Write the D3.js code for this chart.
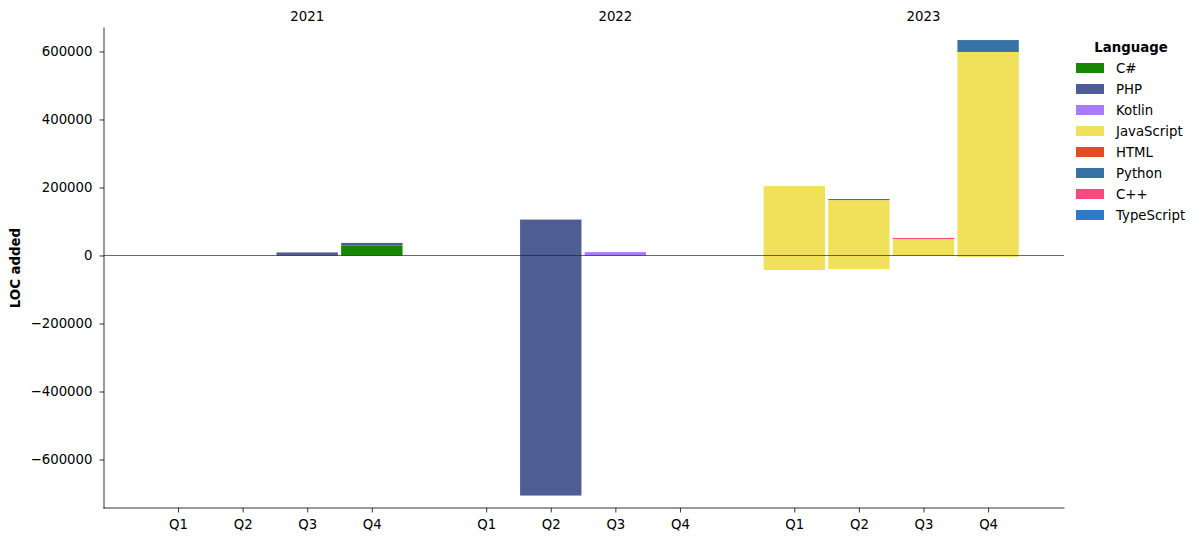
<!DOCTYPE html>
<html>
<head>
<meta charset="utf-8">
<script src="https://cdn.jsdelivr.net/npm/d3@7"></script>
<style>
  body { margin: 0; background: #fff; }
  svg { font-family: "DejaVu Sans", sans-serif; }
</style>
</head>
<body>
<svg id="chart" width="1202" height="542"></svg>
<script>
// ---- data ----
const years = ["2021", "2022", "2023"];
const quarters = ["Q1", "Q2", "Q3", "Q4"];
const languages = ["C#", "PHP", "Kotlin", "JavaScript", "HTML", "Python", "C++", "TypeScript"];
const colors = ["#178600", "#4F5D95", "#A97BFF", "#f1e05a", "#e34c26", "#3572A5", "#f34b7d", "#3178c6"];
// values per period (2021Q1..2023Q4), positive = added, negative = removed
const addCS   = [0, 0, 0, 30000,   0, 0, 0, 0,   0, 0, 0, 0];
const addPHP  = [0, 0, 9000, 7000, 0, 106000, 0, 0, 0, 0, 0, 0];
const addKotlin = [0, 0, 0, 0,     0, 0, 10000, 0, 0, 0, 0, 0];
const addJS   = [0, 0, 0, 0,       0, 1500, 0, 0,  204000, 163000, 48500, 598500];
const addHTML = [0, 0, 0, 0,       0, 0, 0, 0,   0, 0, 0, 0];
const addPython = [0, 0, 0, 0,     0, 0, 0, 0,   0, 3000, 0, 35000];
const addCpp  = [0, 0, 0, 0,       0, 0, 0, 0,   0, 0, 2900, 0];
const addTS   = [0, 0, 0, 0,       0, 0, 0, 0,   0, 0, 0, 0];
const remCS   = [0, 0, 0, 0,       0, 0, 0, 0,   0, 0, 0, 0];
const remPHP  = [0, 0, 0, 0,       0, -706000, 0, 0, 0, 0, 0, 0];
const remKotlin = [0, 0, 0, 0,     0, 0, 0, 0,   0, 0, 0, 0];
const remJS   = [0, 0, 0, 0,       0, 0, 0, 0,   -42600, -40000, 0, -4000];
const remHTML = [0, 0, 0, 0,       0, 0, 0, 0,   0, 0, 0, 0];
const remPython = [0, 0, 0, 0,     0, 0, 0, 0,   0, 0, 0, 0];
const remCpp  = [0, 0, 0, 0,       0, 0, 0, 0,   0, 0, 0, 0];
const remTS   = [0, 0, 0, 0,       0, 0, 0, 0,   0, 0, 0, 0];
const yTicks = [-600000, -400000, -200000, 0, 200000, 400000, 600000];

const added = [addCS, addPHP, addKotlin, addJS, addHTML, addPython, addCpp, addTS];
const removed = [remCS, remPHP, remKotlin, remJS, remHTML, remPython, remCpp, remTS];

// ---- layout ----
const svg = d3.select("#chart");
const M = { left: 104, right: 1064, top: 28, bottom: 508 };
const yearGap = 4.77;
const barW = 0.95;
const pos = (yi, qi) => yi * yearGap + qi;

const x = d3.scaleLinear().domain([-1.146, 13.715]).range([M.left, M.right]);
const y = d3.scaleLinear().domain([-742600, 669000]).range([M.bottom, M.top]);
const color = d3.scaleOrdinal().domain(languages).range(colors);

// periods
const periods = [];
years.forEach((yr, yi) => quarters.forEach((q, qi) => periods.push({ yr, q, p: pos(yi, qi) })));

// build stacked segments
const segs = [];
periods.forEach((per, pi) => {
  let posBase = 0, negBase = 0;
  languages.forEach((lang, li) => {
    const a = added[li][pi];
    if (a > 0) { segs.push({ lang, p: per.p, y0: posBase, y1: posBase + a }); posBase += a; }
  });
  languages.forEach((lang, li) => {
    const r = removed[li][pi];
    if (r < 0) { segs.push({ lang, p: per.p, y0: negBase + r, y1: negBase }); negBase += r; }
  });
});

svg.append("g").selectAll("rect").data(segs).join("rect")
  .attr("x", d => x(d.p - barW / 2))
  .attr("width", d => x(d.p + barW / 2) - x(d.p - barW / 2))
  .attr("y", d => y(d.y1))
  .attr("height", d => y(d.y0) - y(d.y1))
  .attr("fill", d => color(d.lang));

// zero line
svg.append("line")
  .attr("x1", M.left).attr("x2", M.right)
  .attr("y1", y(0)).attr("y2", y(0))
  .attr("stroke", "#000").attr("stroke-opacity", 0.75).attr("stroke-width", 0.8);

// y axis
const yAxis = d3.axisLeft(y).tickValues(yTicks).tickFormat(d3.format("d")).tickSizeOuter(0).tickSize(4.5).tickPadding(7);
const gy = svg.append("g").attr("transform", `translate(${M.left},0)`).call(yAxis);
gy.select(".domain").remove();
gy.selectAll(".tick line").attr("stroke", "#000").attr("stroke-width", 0.8);
gy.selectAll(".tick text").attr("font-size", 13.3).attr("fill", "#000").attr("font-family", "DejaVu Sans");

// x axis
const xAxis = d3.axisBottom(x).tickValues(periods.map(d => d.p))
  .tickFormat((d, i) => periods[i].q).tickSizeOuter(0).tickSize(4.5).tickPadding(7.5);
const gx = svg.append("g").attr("transform", `translate(0,${M.bottom})`).call(xAxis);
gx.select(".domain").remove();
gx.selectAll(".tick line").attr("stroke", "#000").attr("stroke-width", 0.8);
gx.selectAll(".tick text").attr("font-size", 13.3).attr("fill", "#000").attr("font-family", "DejaVu Sans");

// spines
svg.append("line").attr("x1", M.left).attr("x2", M.left).attr("y1", M.top).attr("y2", M.bottom)
  .attr("stroke", "#000").attr("stroke-width", 0.8).attr("stroke-linecap", "square");
svg.append("line").attr("x1", M.left).attr("x2", M.right).attr("y1", M.bottom).attr("y2", M.bottom)
  .attr("stroke", "#000").attr("stroke-width", 0.8).attr("stroke-linecap", "square");

// year labels
svg.append("g").selectAll("text").data(years).join("text")
  .attr("x", (d, i) => x(pos(i, 2)))
  .attr("y", 21)
  .attr("text-anchor", "middle")
  .attr("font-size", 13.3)
  .text(d => d);

// y label
svg.append("text")
  .attr("transform", `translate(20,${(M.top + M.bottom) / 2}) rotate(-90)`)
  .attr("text-anchor", "middle")
  .attr("font-size", 13.3).attr("font-weight", "bold")
  .text("LOC added");

// legend
const lg = svg.append("g");
lg.append("text").attr("x", 1131).attr("y", 52).attr("text-anchor", "middle")
  .attr("font-size", 13.3).attr("font-weight", "bold").text("Language");
const items = lg.selectAll("g.item").data(languages).join("g").attr("class", "item")
  .attr("transform", (d, i) => `translate(1076,${63 + i * 21})`);
items.append("rect").attr("width", 28).attr("height", 10).attr("fill", d => color(d));
items.append("text").attr("x", 40).attr("y", 10).attr("font-size", 13.3).text(d => d);
</script>
</body>
</html>
